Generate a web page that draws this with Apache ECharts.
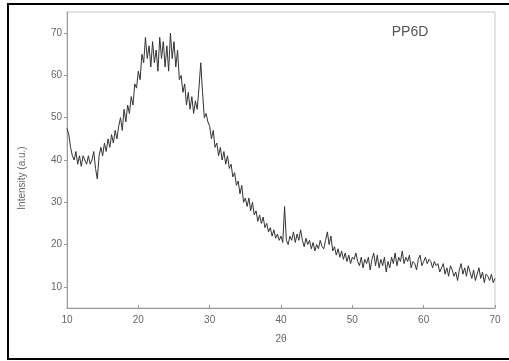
<!DOCTYPE html>
<html lang="en">
<head>
<meta charset="UTF-8">
<title>PP6D</title>
<style>
  html, body { margin: 0; padding: 0; background: #fff; }
  #main { width: 509px; height: 361px; }
</style>
</head>
<body>
<div id="main"></div>

<script src="https://cdn.jsdelivr.net/npm/echarts@6/dist/echarts.min.js"></script>
<script>
// 2theta scan: starts at 10 deg, one reading every 0.25 deg
var thetaStart = 10;
var thetaStep = 0.25;

// intensity, four readings per degree
var intensity = [
    47.5, 46, 43, 41,       // 10
    40, 42, 39, 41,         // 11
    38.5, 41, 40, 39,       // 12
    41, 39, 40, 42,         // 13
    38, 35.5, 41, 43,       // 14
    41, 44, 42, 45,         // 15
    43, 46, 44, 47,         // 16
    45, 48, 50, 47,         // 17
    52, 49, 53, 51,         // 18
    55, 53, 58, 57,         // 19
    61, 59, 65, 63,         // 20
    69, 64, 67, 62,         // 21
    68, 63, 66, 61,         // 22
    69, 64, 68, 62,         // 23
    67, 61, 70, 64,         // 24
    68, 62, 66, 59,         // 25
    60, 56, 58, 53,         // 26
    56, 52, 55, 51,         // 27
    54, 52, 57, 63,         // 28
    56, 50, 51, 49,         // 29
    48, 45, 47, 43,         // 30
    44, 41, 43, 40,         // 31
    42, 39, 41, 38,         // 32
    39, 36, 37, 34,         // 33
    35, 32, 34, 30,         // 34
    31, 29, 31, 28,         // 35
    30, 27, 28, 25.5,       // 36
    27, 25, 26.5, 24,       // 37
    25, 23, 24, 22,         // 38
    23.5, 21.5, 22.5, 21,   // 39
    22, 20.5, 29, 21,       // 40
    20, 22, 21, 23,         // 41
    20.5, 22.5, 21, 23.5,   // 42
    21, 19.5, 21.5, 20,     // 43
    21, 19, 20.5, 18.5,     // 44
    20, 19, 21, 19.5,       // 45
    19, 21, 23, 20,         // 46
    22, 18.5, 19.5, 17.5,   // 47
    19, 17, 18.5, 16.5,     // 48
    18, 16, 17.5, 15.5,     // 49
    17, 16.5, 18, 16,       // 50
    15, 17, 14.5, 16.5,     // 51
    15.5, 17, 14, 16.5,     // 52
    18, 15, 17.5, 14.5,     // 53
    16.5, 15, 17, 13.5,     // 54
    16, 14.5, 17, 15.5,     // 55
    18, 15, 17, 16,         // 56
    18.5, 15.5, 17, 16,     // 57
    17.5, 14.5, 16, 15.5,   // 58
    14, 16.5, 17.5, 15,     // 59
    16, 17, 15.5, 16.5,     // 60
    16, 14.5, 16, 15,       // 61
    15.5, 13.5, 14.5, 15.5, // 62
    13, 14.5, 12.5, 15,     // 63
    14, 12.5, 13.5, 11.5,   // 64
    14, 15.5, 13, 14.5,     // 65
    12.5, 15, 13.5, 12,     // 66
    14, 11.5, 13, 14.5,     // 67
    12, 13.5, 11, 13,       // 68
    12.5, 11.5, 13, 11,     // 69
    12                      // 70
];

var xTicks = [10, 20, 30, 40, 50, 60, 70];
var yTicks = [10, 20, 30, 40, 50, 60, 70];

var points = [];
for (var i = 0; i < intensity.length; i++) {
    points.push([thetaStart + i * thetaStep, intensity[i]]);
}

var myChart = echarts.init(document.getElementById('main'));

var labelFont = {
    color: '#666',
    fontSize: 10,
    fontFamily: 'Arial'
};

var option = {
    animation: false,
    backgroundColor: '#fff',
    grid: {
        left: 67,
        right: 14,
        top: 12,
        bottom: 53,
        show: true,
        borderColor: '#c8c8c8',
        borderWidth: 1
    },
    xAxis: {
        type: 'value',
        min: 10,
        max: 70,
        interval: 10,
        name: '2\u03b8',
        nameLocation: 'middle',
        nameGap: 26,
        nameTextStyle: labelFont,
        axisLine: { show: true, lineStyle: { color: '#999', width: 1 } },
        axisTick: { show: true, length: 3, inside: true, lineStyle: { color: '#999' } },
        axisLabel: Object.assign({ margin: 7 }, labelFont),
        splitLine: { show: false }
    },
    yAxis: {
        type: 'value',
        min: 5,
        max: 75,
        axisLine: { show: true, lineStyle: { color: '#999', width: 1 } },
        axisTick: { show: true, length: 3, customValues: yTicks, lineStyle: { color: '#999' } },
        axisLabel: Object.assign({ margin: 5, customValues: yTicks }, labelFont),
        splitLine: { show: false }
    },
    graphic: [
        {
            type: 'rect',
            shape: { x: 8, y: 4, width: 520, height: 355 },
            style: { fill: 'none', stroke: '#000', lineWidth: 2 },
            silent: true,
            z: 100
        },
        {
            type: 'text',
            x: 22,
            y: 178,
            rotation: Math.PI / 2,
            style: {
                text: 'Intensity (a.u.)',
                fill: '#666',
                fontSize: 10,
                fontFamily: 'Arial',
                align: 'center',
                verticalAlign: 'middle'
            }
        },
        {
            type: 'text',
            x: 410,
            y: 32,
            style: {
                text: 'PP6D',
                fill: '#555',
                fontSize: 14,
                fontFamily: 'Arial',
                align: 'center',
                verticalAlign: 'middle'
            }
        }
    ],
    series: [
        {
            type: 'line',
            data: points,
            showSymbol: false,
            lineStyle: { color: '#333', width: 1 }
        }
    ]
};

myChart.setOption(option);
</script>
</body>
</html>
